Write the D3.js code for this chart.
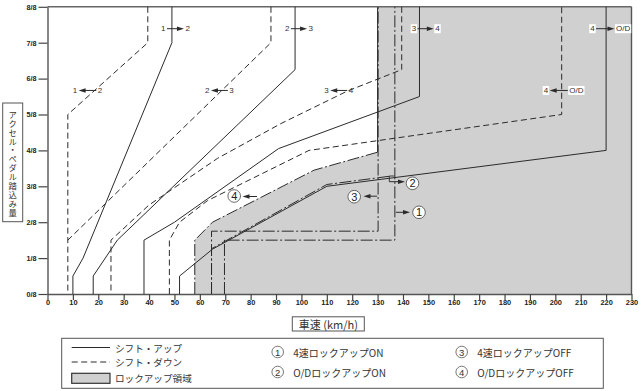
<!DOCTYPE html>
<html><head><meta charset="utf-8">
<script src="https://cdn.jsdelivr.net/npm/d3@7"></script>
<style>body{margin:0;background:#fff}svg{display:block}</style>
</head><body>
<svg id="c" width="641" height="391"></svg>
<script>
// ---- data: [vehicle speed km/h, accelerator opening in eighths]
const speedTicks = [0,10,20,30,40,50,60,70,80,90,100,110,120,130,140,150,160,170,180,190,200,210,220,230];
const throttleTicks = ["0/8","1/8","2/8","3/8","4/8","5/8","6/8","7/8","8/8"];

const up12 = [[10,0],[10,0.5],[14,1],[49,7],[49,8]];
const up23 = [[18,0],[18,0.5],[27.5,1.5],[97.5,6.25],[97.5,8]];
const up34 = [[38,0],[38,1.5],[50,2],[91,4.05],[146.5,5.5],[146.5,8]];
const upOD = [[52,0],[52,0.5],[65,1.25],[110,3],[220,4],[220,8]];

const down12 = [[39.5,8],[39.5,7],[8,5],[8,0]];
const down23 = [[88,8],[88,7],[8,1.5]];
const down34 = [[139.5,8],[139.5,6.25],[118,5.65],[92,4.75],[67,3.78],[40,2.48],[25,1.5],[25,0]];
const downOD = [[48,0],[48,1.5],[52,2],[63,2.6],[103,4],[202.5,5],[202.5,8]];

const lockRegion = [[58,0],[58,1.5],[65,2],[105,3.45],[130,3.95],[130,8],[230,8],[230,0]];
const lock4On   = [[69.7,0],[69.7,1.5],[136.8,1.5],[136.8,8]];
const lockODOn  = [[64.6,0],[64.6,1.26],[110,3.05],[134.7,3.28]];
const lock4Off  = [[64.6,0],[64.6,1.75],[130.2,1.75],[130.2,8]];
const lockODOff = [[58,0],[58,1.5],[65,2],[105,3.45],[130,3.95]];

// shift labels: from, to, speed of left text, speed of right text, throttle, direction
const shiftLabels = [
  ["1","2",45.6,55.2,7.39,"up"],
  ["2","3",94.4,103.7,7.39,"up"],
  ["3","4",144.3,153.6,7.39,"up"],
  ["4","O/D",214.6,226.7,7.39,"up"],
  ["1","2",10.8,20.7,5.67,"down"],
  ["2","3",62.9,72.5,5.67,"down"],
  ["3","4",109.9,119.5,5.67,"down"],
  ["4","O/D",196.3,208.3,5.67,"down"]
];
const legendLeft = ["シフト・アップ","シフト・ダウン","ロックアップ領域"];
const legendRight = [["1","4速ロックアップON"],["2","O/DロックアップON"],["3","4速ロックアップOFF"],["4","O/DロックアップOFF"]];
const yTitle = "アクセル・ペダル踏込み量";
const xTitle = "車速 (km/h)";

// ---- drawing
const svg = d3.select("#c");
const x = d3.scaleLinear().domain([0,230]).range([47.5,631.5]);
const y = d3.scaleLinear().domain([0,8]).range([294,6.8]);
const line = d3.line().x(d=>x(d[0])).y(d=>y(d[1]));
const INK = "#2b2b2b";
const FONT = "'Liberation Sans', Arial, Helvetica, sans-serif";
const JFONT = "'Noto Sans CJK JP', 'Noto Sans', sans-serif";

// lock-up region
svg.append("path").attr("d", line(lockRegion)+"Z").attr("fill","#d0d0d0").attr("stroke","none");
svg.append("path").attr("d", line([[130,3.95],[130,8]])).attr("stroke",INK).attr("stroke-width",1).attr("fill","none");
svg.append("path").attr("d", line([[230,0],[230,8]])).attr("stroke","#555").attr("stroke-width",1.4).attr("fill","none");

// frame / axes
svg.append("path").attr("d", line([[0,8],[230,8]])).attr("stroke","#666").attr("stroke-width",1.6).attr("fill","none");

const xAxis = d3.axisBottom(x).tickValues(speedTicks).tickSize(6).tickSizeOuter(0).tickFormat(d3.format("d"));
const gx = svg.append("g").attr("transform",`translate(0,${y(0)})`).call(xAxis);
gx.select(".domain").attr("stroke","#555").attr("stroke-width",1.4);
gx.selectAll(".tick line").attr("stroke","#444").attr("stroke-width",1.2);
gx.selectAll(".tick text").attr("font-family",FONT).attr("font-size",7.4).attr("font-weight","bold").attr("fill","#222").attr("dy","0.55em").attr("y",7);

const yAxis = d3.axisLeft(y).tickValues(d3.range(throttleTicks.length)).tickSize(9).tickSizeOuter(0).tickFormat(i=>throttleTicks[i]);
const gy = svg.append("g").attr("transform",`translate(${x(0)},0)`).call(yAxis);
gy.select(".domain").attr("stroke","#555").attr("stroke-width",1.4);
gy.selectAll(".tick line").attr("stroke","#444").attr("stroke-width",1.2);
gy.selectAll(".tick text").attr("font-family",FONT).attr("font-size",7.2).attr("font-weight","bold").attr("fill","#222").attr("x",-11);

// lock-up lines (dash-dot)
const DD = "12,2.5,2,2.5";
[lock4On, lockODOn, lock4Off, lockODOff].forEach(p=>{
  svg.append("path").attr("d",line(p)).attr("fill","none").attr("stroke",INK).attr("stroke-width",1).attr("stroke-dasharray",DD);
});

// shift lines
[up12,up23,up34,upOD].forEach(p=>{
  svg.append("path").attr("d",line(p)).attr("fill","none").attr("stroke",INK).attr("stroke-width",1);
});
[down12,down23,down34,downOD].forEach(p=>{
  svg.append("path").attr("d",line(p)).attr("fill","none").attr("stroke",INK).attr("stroke-width",1).attr("stroke-dasharray","6,3.5");
});

function arrow(g, x1, x2, yy){ // arrow from x1 to x2 (head at x2)
  const dir = x2 > x1 ? 1 : -1;
  g.append("line").attr("x1",x1).attr("x2",x2-dir*5).attr("y1",yy).attr("y2",yy).attr("stroke",INK).attr("stroke-width",1);
  g.append("path").attr("d",`M${x2},${yy} L${x2-dir*7},${yy-2.3} L${x2-dir*7},${yy+2.3}Z`).attr("fill",INK);
}

// shift labels
shiftLabels.forEach(([a,b,va,vb,e,dir])=>{
  const g = svg.append("g");
  const yy = y(e);
  const ta = g.append("text").attr("x",x(va)).attr("y",yy).attr("text-anchor","middle").attr("dominant-baseline","central")
    .attr("font-family",FONT).attr("font-size",8).attr("fill","#333").text(a);
  const tb = g.append("text").attr("x",x(vb)).attr("y",yy).attr("text-anchor","middle").attr("dominant-baseline","central")
    .attr("font-family",FONT).attr("font-size",8).attr("fill","#333").text(b);
  const wa = ta.node().getComputedTextLength(), wb = tb.node().getComputedTextLength();
  if (x(va) > x(130)) {
    [[ta,wa,va],[tb,wb,vb]].forEach(([t,w,v])=>{
      g.insert("rect","text").attr("x",x(v)-w/2-1).attr("y",yy-4.5).attr("width",w+2).attr("height",9).attr("fill","#fff");
    });
  }
  const l = x(va)+wa/2+1.5, r = x(vb)-wb/2-1.5;
  if (dir==="up") arrow(g,l,r,yy); else arrow(g,r,l,yy);
});

// circled number markers on chart
function circ(g,cx,cy,n,rad,fs){
  g.append("circle").attr("cx",cx).attr("cy",cy).attr("r",rad).attr("fill","#fff").attr("stroke","#444").attr("stroke-width",0.8);
  g.append("text").attr("x",cx).attr("y",cy).attr("text-anchor","middle").attr("dominant-baseline","central")
    .attr("font-family",FONT).attr("font-size",fs).attr("fill","#222").text(n);
}
const gm = svg.append("g");
arrow(gm, x(136.8)+1, 410, 212.3); circ(gm,419,212.3,"1",6.3,11);
gm.append("path").attr("d",`M394.5,176 H389.3 V181.7`).attr("fill","none").attr("stroke",INK).attr("stroke-width",0.9);
arrow(gm, 389.3, 405, 181.7); circ(gm,412.5,183.3,"2",6.3,11);
arrow(gm, x(130.2)-1, 363.5, 196.2); circ(gm,354.2,196.7,"3",6.3,11);
arrow(gm, 257, 242.5, 196.5); circ(gm,234.2,196,"4",6.3,11);

// y title (vertical writing)
const gyT = svg.append("g");
gyT.append("rect").attr("x",2.7).attr("y",103).attr("width",20).attr("height",118.7).attr("fill","#fff").attr("stroke","#555").attr("stroke-width",1);
gyT.append("text").attr("x",12.7).attr("y",110.5)
  .style("writing-mode","vertical-rl").style("text-orientation","upright")
  .attr("font-family",JFONT).attr("font-size",8.3).attr("letter-spacing",0.6).attr("fill","#333").text(yTitle);

// x title
const gxT = svg.append("g");
gxT.append("rect").attr("x",292.3).attr("y",316.8).attr("width",72).attr("height",14.2).attr("fill","#fff").attr("stroke","#555").attr("stroke-width",1);
gxT.append("text").attr("x",328.3).attr("y",324.2).attr("text-anchor","middle").attr("dominant-baseline","central")
  .attr("font-family",JFONT).attr("font-size",11).attr("fill","#333").text(xTitle);

// legend
const gl = svg.append("g");
gl.append("rect").attr("x",61.7).attr("y",338.3).attr("width",541.6).attr("height",50).attr("fill","#fff").attr("stroke","#555").attr("stroke-width",1);
const rowY = [347.5, 362, 378];
gl.append("line").attr("x1",71.7).attr("x2",110).attr("y1",rowY[0]).attr("y2",rowY[0]).attr("stroke",INK).attr("stroke-width",1);
gl.append("line").attr("x1",71.7).attr("x2",110).attr("y1",rowY[1]).attr("y2",rowY[1]).attr("stroke",INK).attr("stroke-width",1).attr("stroke-dasharray","6,3.5");
gl.append("rect").attr("x",71.7).attr("y",373.3).attr("width",38.3).attr("height",10).attr("fill","#d0d0d0").attr("stroke","#333").attr("stroke-width",1.2);
legendLeft.forEach((t,i)=>{
  gl.append("text").attr("x",115).attr("y",rowY[i]).attr("dominant-baseline","central")
    .attr("font-family",JFONT).attr("font-size",9.6).attr("fill","#333").text(t);
});
const rPos = [[277.7,352],[277.7,372],[461.7,352],[461.7,372]];
legendRight.forEach(([n,t],i)=>{
  const [cx,cy] = rPos[i];
  gl.append("circle").attr("cx",cx).attr("cy",cy).attr("r",5.8).attr("fill","#fff").attr("stroke","#555").attr("stroke-width",0.8);
  gl.append("text").attr("x",cx).attr("y",cy).attr("text-anchor","middle").attr("dominant-baseline","central")
    .attr("font-family",FONT).attr("font-size",9.5).attr("fill","#333").text(n);
  gl.append("text").attr("x",cx+15.5).attr("y",cy).attr("dominant-baseline","central")
    .attr("font-family",JFONT).attr("font-size",10).attr("fill","#333").text(t);
});
</script>
</body></html>
